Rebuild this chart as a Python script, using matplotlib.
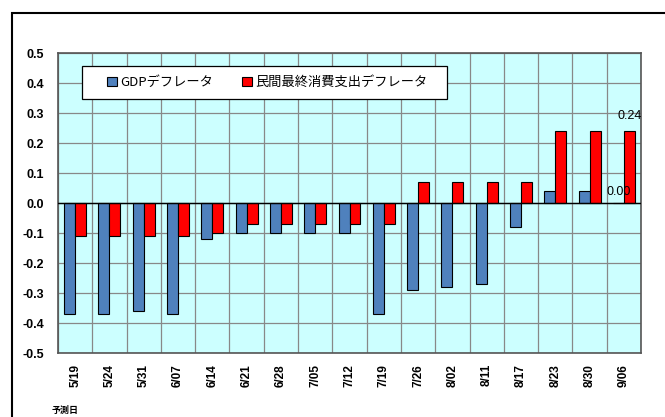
import numpy as np
import matplotlib.pyplot as plt
from matplotlib.patches import Rectangle

plt.rcParams['font.family'] = ['Liberation Sans', 'Noto Sans CJK JP']

dates = ['5/19', '5/24', '5/31', '6/07', '6/14', '6/21', '6/28', '7/05', '7/12',
         '7/19', '7/26', '8/02', '8/11', '8/17', '8/23', '8/30', '9/06']
gdp = [-0.37, -0.37, -0.36, -0.37, -0.12, -0.10, -0.10, -0.10, -0.10,
       -0.37, -0.29, -0.28, -0.27, -0.08, 0.04, 0.04, 0.00]
consumption = [-0.11, -0.11, -0.11, -0.11, -0.10, -0.07, -0.07, -0.07, -0.07,
               -0.07, 0.07, 0.07, 0.07, 0.07, 0.24, 0.24, 0.24]
yticks = [0.5, 0.4, 0.3, 0.2, 0.1, 0.0, -0.1, -0.2, -0.3, -0.4, -0.5]

fig = plt.figure(figsize=(6.65, 4.17), dpi=100)
# outer chart frame
fig.patches.append(Rectangle((12 / 665, -0.05), 1.0, 1 - 13 / 417 + 0.05,
                             transform=fig.transFigure, fill=False,
                             edgecolor='black', linewidth=1.5))

ax = fig.add_axes([58 / 665, 1 - 353 / 417, (641 - 58) / 665, 300 / 417])
ax.set_facecolor('#CCFFFF')

x = np.arange(len(dates))
w = 0.32
ax.bar(x - w / 2, gdp, w, color='#4F81BD', edgecolor='black', linewidth=0.8,
       label='GDPデフレータ', zorder=3)
ax.bar(x + w / 2, consumption, w, color='#FF0000', edgecolor='black', linewidth=0.8,
       label='民間最終消費支出デフレータ', zorder=3)

ax.set_xlim(-0.5, len(dates) - 0.5)
ax.set_ylim(-0.5, 0.5)
ax.set_yticks(yticks)
ax.set_yticklabels(['%.1f' % v for v in yticks], fontsize=9, fontweight='bold')
ax.set_xticks(x)
ax.set_xticklabels(dates, rotation=90, fontsize=8.5, fontweight='bold')
ax.tick_params(axis='y', length=0, pad=10)
ax.tick_params(axis='x', length=0, pad=8)

# grid
ax.set_xticks(np.arange(len(dates) + 1) - 0.5, minor=True)
ax.tick_params(axis='x', which='minor', length=0)
ax.grid(True, which='minor', axis='x', color='#888888', linewidth=0.9, zorder=1)
ax.grid(True, which='major', axis='y', color='#888888', linewidth=0.9, zorder=1)
ax.axhline(0, color='black', linewidth=1.0, zorder=4)
for s in ax.spines.values():
    s.set_color('#555555')
    s.set_linewidth(1.2)

# data labels
ax.text(x[-1] - w / 2, gdp[-1] + 0.037, '%.2f' % gdp[-1], ha='center', va='center',
        fontsize=9, zorder=5)
ax.text(x[-1] + w / 2, consumption[-1] + 0.03, '%.2f' % consumption[-1],
        ha='center', va='bottom', fontsize=9, zorder=5)

# legend box
ax.add_patch(Rectangle((82 / 665, 1 - 99 / 417), 365 / 665, 33 / 417,
                       transform=fig.transFigure, facecolor='white',
                       edgecolor='black', linewidth=0.9, zorder=6))
leg = ax.legend(loc='center left', bbox_to_anchor=(107 / 665, 1 - 82.5 / 417),
                bbox_transform=fig.transFigure, ncol=2,
                prop={'family': ['Noto Sans CJK JP'], 'size': 9.5},
                frameon=False, borderpad=0, borderaxespad=0,
                handlelength=0.75, handleheight=0.75, handletextpad=0.25,
                columnspacing=2.2)
leg.set_zorder(7)

fig.text(52 / 665, 1 - 410 / 417, '予測日', fontsize=6.5, fontweight='bold',
         va='center', ha='left')

fig.savefig('out.png', dpi=100)
